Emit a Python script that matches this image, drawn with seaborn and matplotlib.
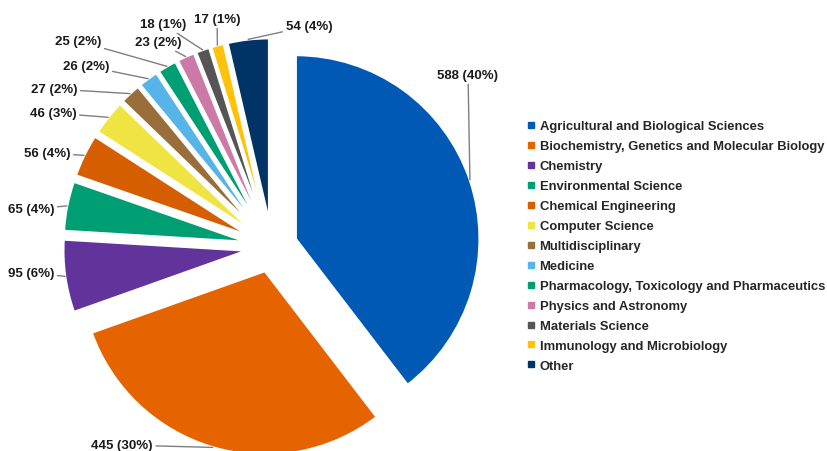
import matplotlib
matplotlib.use("Agg")
import matplotlib.pyplot as plt
import seaborn as sns
import numpy as np
from matplotlib.lines import Line2D

# data
categories = [
    "Agricultural and Biological Sciences",
    "Biochemistry, Genetics and Molecular Biology",
    "Chemistry",
    "Environmental Science",
    "Chemical Engineering",
    "Computer Science",
    "Multidisciplinary",
    "Medicine",
    "Pharmacology, Toxicology and Pharmaceutics",
    "Physics and Astronomy",
    "Materials Science",
    "Immunology and Microbiology",
    "Other",
]
counts = [588, 445, 95, 65, 56, 46, 27, 26, 25, 23, 18, 17, 54]
colors = ["#005AB5", "#E66400", "#62339A", "#009E73", "#D55E00", "#F0E442",
          "#9A6E3A", "#56B4E9", "#009E73", "#CC79A7", "#555555", "#FFC20A",
          "#003366"]

# label positions in pixels (from top-left), layout only
label_pos = [(468, 76), (122, 446), (31, 274), (31, 210), (47, 154), (53, 114),
             (54, 90), (86, 67), (78, 42), (158, 43), (163, 25), (217, 20),
             (309, 27)]

W, H = 827, 452
sns.set_theme(style="white")
plt.rcParams["font.family"] = ["Liberation Sans", "DejaVu Sans"]

fig = plt.figure(figsize=(W / 100, H / 100), dpi=100)
ax = fig.add_axes([0, 0, 1, 1])

cx, cy, r = 272, H - 248, 184
# pie offsets are absolute (data units = pixels here)
explode = [25] * len(counts)
wedges, _ = ax.pie(counts, colors=colors, startangle=90, counterclock=False,
                   explode=explode, radius=r, center=(cx, cy), frame=True,
                   wedgeprops=dict(edgecolor="white", linewidth=1.8))
ax.set_xlim(0, W)
ax.set_ylim(0, H)
ax.axis("off")

total = sum(counts)
for w, n, (tx, ty) in zip(wedges, counts, label_pos):
    mid = np.deg2rad((w.theta1 + w.theta2) / 2)
    px = w.center[0] + w.r * np.cos(mid)
    py = w.center[1] + w.r * np.sin(mid)
    ax.annotate(f"{n} ({round(100 * n / total)}%)", xy=(px, py),
                xytext=(tx, H - ty), ha="center", va="center",
                fontsize=9.5, fontweight="bold", color="#1a1a1a",
                arrowprops=dict(arrowstyle="-", color="#7f7f7f", lw=1,
                                shrinkA=0, shrinkB=0))

handles = [Line2D([], [], marker="s", linestyle="none", markersize=5,
                  markerfacecolor=c, markeredgecolor=c) for c in colors]
ax.legend(handles, categories, loc="upper left",
          bbox_to_anchor=(522 / W, 1 - 116 / H), frameon=False,
          prop=dict(size=9.4, weight="bold"), handlelength=0.6,
          handletextpad=0.35, labelspacing=0.6, borderaxespad=0)

fig.savefig("out.png", dpi=100)
